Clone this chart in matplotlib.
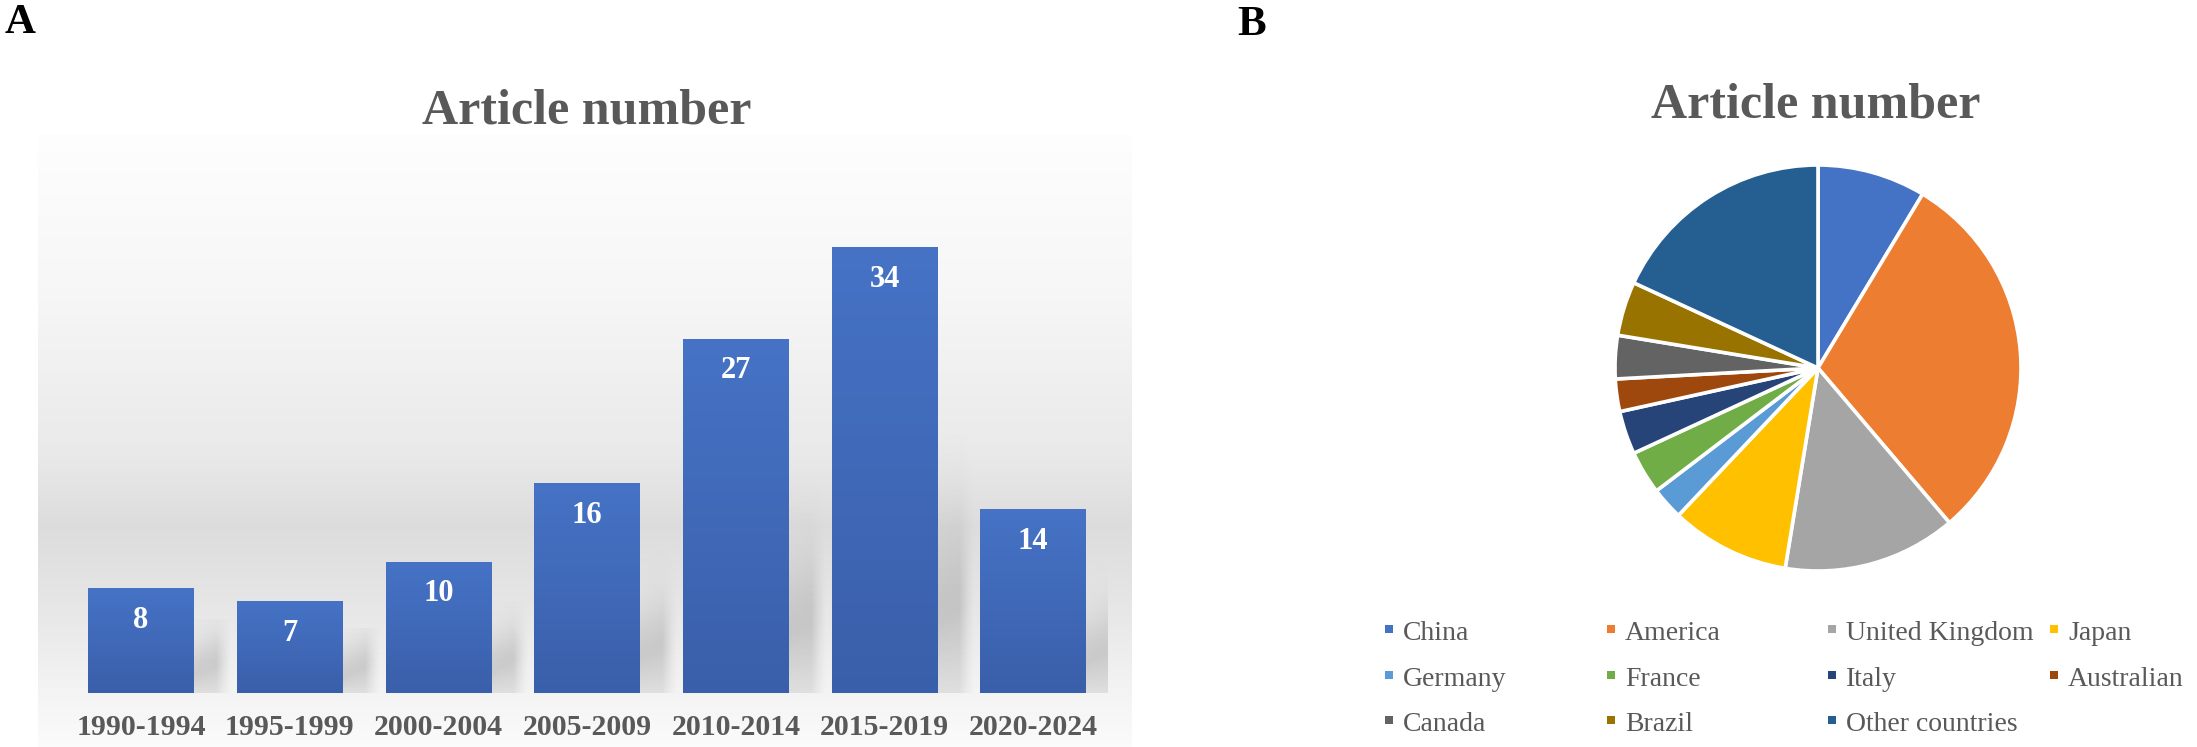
import numpy as np
import matplotlib
matplotlib.use("Agg")
import matplotlib.pyplot as plt
from matplotlib.colors import LinearSegmentedColormap
from matplotlib.patches import Rectangle

# ---------------- data ----------------
periods = ["1990-1994", "1995-1999", "2000-2004", "2005-2009",
           "2010-2014", "2015-2019", "2020-2024"]
article_counts = [8, 7, 10, 16, 27, 34, 14]

countries = ["China", "America", "United Kingdom", "Japan", "Germany", "France",
             "Italy", "Australian", "Canada", "Brazil", "Other countries"]
country_counts = [10, 35, 16, 11, 3, 4, 4, 3, 4, 5, 21]
country_colors = ["#4472C4", "#ED7D31", "#A5A5A5", "#FFC000", "#5B9BD5", "#70AD47",
                  "#264478", "#9E480E", "#636363", "#997300", "#255E91"]

# ---------------- setup ----------------
plt.rcParams["font.family"] = ["Liberation Serif", "DejaVu Serif"]
W, H, DPI = 2197, 747, 100
fig = plt.figure(figsize=(W / DPI, H / DPI), dpi=DPI)
fig.patch.set_facecolor("white")
TXT = "#595959"


def px_axes(left, top, right, bottom, **kw):
    return fig.add_axes([left / W, 1 - bottom / H, (right - left) / W, (bottom - top) / H], **kw)


# ---------------- panel A background gradient ----------------
bg = px_axes(38, 135, 1132, 747)
bg.set_zorder(0)
ys = np.linspace(0, 1, 400)
stops_y = np.array([0.0, 0.27, 0.52, 0.64, 0.76, 0.91, 1.0])
stops_v = np.array([0.995, 0.965, 0.915, 0.865, 0.90, 0.955, 0.985])
vals = np.interp(ys, stops_y, stops_v)
grad_img = np.repeat(vals[:, None, None], 3, axis=2)
bg.imshow(grad_img, aspect="auto", extent=[0, 1, 0, 1], origin="upper")
bg.set_axis_off()

# ---------------- panel A bars ----------------
ax = px_axes(66.7, 221, 1107.6, 693)
ax.set_zorder(1)
ax.patch.set_alpha(0)
x = np.arange(len(periods))
bars = ax.bar(x, article_counts, width=0.71, color="#4472C4", zorder=3)

bar_cmap = LinearSegmentedColormap.from_list("bar", ["#4673C6", "#3A5FAA"])
grad = np.linspace(0, 1, 256).reshape(-1, 1)
for b, v in zip(bars, article_counts):
    x0, w, h = b.get_x(), b.get_width(), b.get_height()
    x1 = x0 + w
    im = ax.imshow(grad, cmap=bar_cmap, extent=[x0, x1, 0, h],
                   aspect="auto", origin="upper", zorder=3.1)
    im.set_clip_path(b)

    # soft perspective shadow at the lower right of each bar
    ext_x, ext_y = 0.32, 0.7 * h
    nx, ny = 100, 240
    X = np.linspace(x1, x1 + ext_x, nx)[None, :]
    Y = np.linspace(ext_y, 0, ny)[:, None]
    dx = X - x1
    peak = 0.16 * h + 5.0 * dx
    spread = 0.16 * h + 1.2
    gy = np.where(Y < peak, 0.55 + 0.45 * Y / peak,
                  np.exp(-((Y - peak) / spread) ** 2))
    gx = np.clip((0.2 - dx) / 0.1 + 0.5, 0, 1) ** 1.3
    rgba = np.zeros((ny, nx, 4))
    rgba[..., :3] = 0.4
    rgba[..., 3] = 0.26 * gx * gy
    ax.imshow(rgba, extent=[x1, x1 + ext_x, 0, ext_y],
              aspect="auto", origin="upper", zorder=2, interpolation="bilinear")

    ax.annotate(str(v), (x0 + w / 2, v), xytext=(0, -23), textcoords="offset points",
                ha="center", va="center", color="white", fontsize=22,
                fontweight="bold", zorder=5)

ax.set_xlim(-0.5, len(periods) - 0.5)
ax.set_ylim(0, 36)
ax.set_aspect("auto")
ax.set_xticks(x, periods)
ax.set_yticks([])
ax.tick_params(axis="x", length=0, pad=15, labelsize=21.5, labelcolor=TXT)
for lab in ax.get_xticklabels():
    lab.set_fontweight("bold")
for s in ax.spines.values():
    s.set_visible(False)

# ---------------- panel B pie ----------------
cx, cy, r = 1818, 368, 203
pax = px_axes(cx - r, cy - r, cx + r, cy + r)
pax.pie(country_counts, colors=country_colors, startangle=90, counterclock=False,
        wedgeprops=dict(edgecolor="white", linewidth=2.6))
pax.set_xlim(-1, 1)
pax.set_ylim(-1, 1)

# ---------------- legend (row-major, fixed columns) ----------------
lax = px_axes(0, 0, W, H)
lax.set_xlim(0, W)
lax.set_ylim(H, 0)
lax.set_axis_off()
lax.patch.set_alpha(0)
col_x = [1385, 1607, 1828, 2050]
row_base = [640, 686, 731]
for k, (name, col) in enumerate(zip(countries, country_colors)):
    rr, cc = divmod(k, 4)
    mx, by = col_x[cc], row_base[rr]
    lax.add_patch(Rectangle((mx, by - 15), 8, 8, facecolor=col, edgecolor="none"))
    lax.text(mx + 18, by, name, ha="left", va="baseline", fontsize=20, color=TXT)

# ---------------- titles & panel letters ----------------
fig.text(587 / W, 1 - 123 / H, "Article number", ha="center", va="baseline",
         fontsize=36, fontweight="bold", color=TXT)
fig.text(1816 / W, 1 - 118 / H, "Article number", ha="center", va="baseline",
         fontsize=36, fontweight="bold", color=TXT)
fig.text(5 / W, 1 - 33 / H, "A", ha="left", va="baseline", fontsize=31,
         fontweight="bold", color="black")
fig.text(1237 / W, 1 - 35 / H, "B", ha="left", va="baseline", fontsize=31,
         fontweight="bold", color="black")

fig.savefig("out.png", dpi=DPI, facecolor="white")
